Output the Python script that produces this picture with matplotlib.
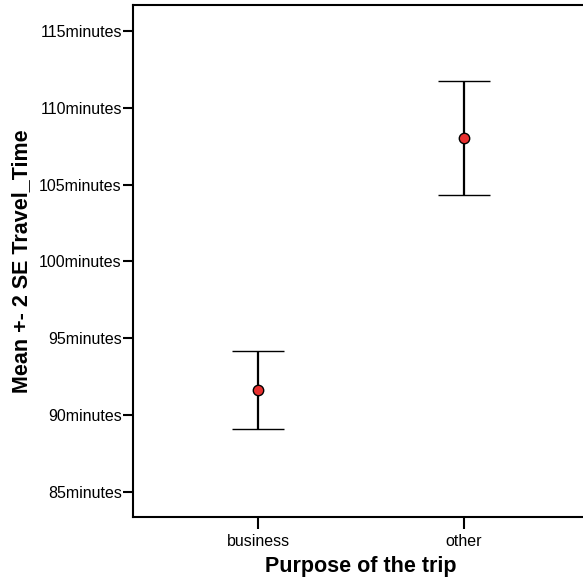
import matplotlib
matplotlib.use("Agg")
import matplotlib.pyplot as plt
import numpy as np

plt.rcParams['font.family'] = ['Liberation Sans', 'DejaVu Sans']

# mean travel time and +-2 SE bounds per trip purpose
purposes = ["business", "other"]
means = [91.63, 108.03]
lower = [89.11, 104.32]
upper = [94.17, 111.74]
yticks = [85, 90, 95, 100, 105, 110, 115]

fig = plt.figure(figsize=(5.83, 5.84), dpi=100)
ax = fig.add_axes([0.2281, 0.1152, 0.7822, 0.8762])

x = np.arange(1, len(purposes) + 1)
m = np.array(means)
err = [m - np.array(lower), np.array(upper) - m]
ax.errorbar(x, m, yerr=err, fmt='o', color='black', ecolor='black',
            elinewidth=1.6, capsize=18.5, capthick=1.6,
            markerfacecolor='#e8302f', markeredgecolor='black',
            markeredgewidth=1.0, markersize=7.5)

ax.set_xlim(0.393, 2.607)
ax.set_ylim(83.37, 116.7)
ax.set_xticks(x)
ax.set_xticklabels(purposes)
ax.set_yticks(yticks)
ax.set_yticklabels([f"{v}minutes" for v in yticks])

for side in ['left', 'bottom', 'top']:
    ax.spines[side].set_linewidth(1.5)
ax.spines['right'].set_visible(False)

ax.tick_params(axis='both', direction='out', length=7.5, width=1.5,
               labelsize=11.5, colors='black', pad=0.5)
ax.tick_params(axis='x', length=8.5, pad=4)

ax.set_xlabel("Purpose of the trip", fontsize=15.5, fontweight='bold', labelpad=5)
ax.set_ylabel("Mean +- 2 SE Travel_Time", fontsize=15.5, fontweight='bold', labelpad=5)

fig.savefig("out.png", dpi=100)
